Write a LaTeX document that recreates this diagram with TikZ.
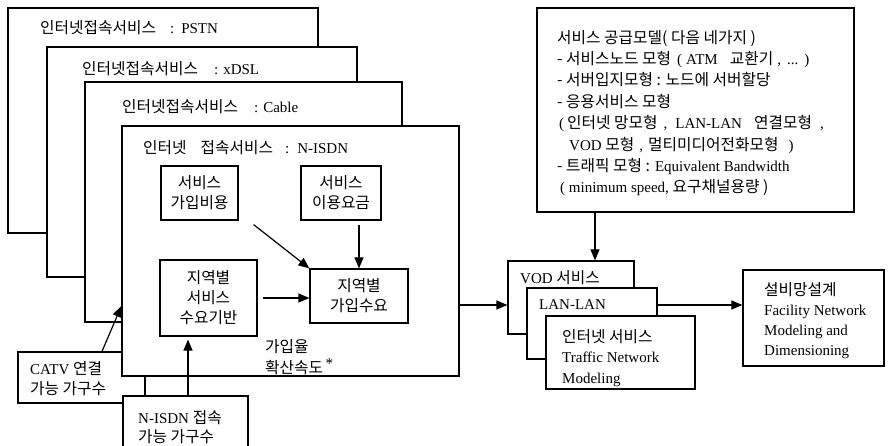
\documentclass[tikz,border=0pt]{standalone}
\usepackage{fontspec}
\setmainfont{Liberation Serif}
\newfontfamily\kr[Scale=1.05]{Noto Sans CJK KR}
\newcommand\hg[1]{{\kr #1}}
\usetikzlibrary{arrows.meta}
\begin{document}
\begin{tikzpicture}[x=1pt,y=-1pt,
  box/.style={draw, fill=white, line width=1.2pt, inner sep=0pt, align=center},
  wh/.style 2 args={minimum width=#1pt, minimum height=#2pt},
  arr/.style={line width=1.2pt, -{Triangle[length=11pt,width=9pt]}},
  txt/.style={inner sep=0pt, align=left, anchor=base west},
  mtxt/.style={inner sep=0pt, align=left, anchor=north west},
  every node/.append style={font=\fontsize{15}{20}\selectfont}]
\clip (0,0) rectangle (889,446);
\fill[white] (0,0) rectangle (889,446);
% stacked access-service boxes
\node[box, wh={310}{225}] (pstn) at (163,120.5) {};
\node[txt] (pstnT) at (40,34) {\hg{인터넷접속서비스}\hspace{14pt}:\hspace{7pt}PSTN};
\node[box, wh={310}{230}] (xdsl) at (202,162) {};
\node[txt] (xdslT) at (82,75) {\hg{인터넷접속서비스}\hspace{16pt}:\hspace{5pt}xDSL};
\node[box, wh={317}{240}] (cable) at (243.5,202) {};
\node[txt] (cableT) at (122,113) {\hg{인터넷접속서비스}\hspace{16pt}:\hspace{5pt}Cable};
\node[box, wh={127}{51}] (catv) at (81.5,377.5) {};
\node[mtxt] (catvT) at (30,360) {\strut CATV \hg{연결}\\\hg{가능 가구수}};
\node[box, wh={337}{250}] (nisdn) at (290.5,251) {};
\node[txt] (nisdnT) at (143,154) {\hg{인터넷}\hspace{14pt}\hg{접속서비스}\hspace{12pt}:\hspace{8pt}N-ISDN};
% inner boxes
\node[box, wh={77}{54}] (b1) at (199.5,193) {\hg{서비스}\\\hg{가입비용}};
\node[box, wh={80}{54}] (b2) at (341,193) {\hg{서비스}\\\hg{이용요금}};
\node[box, wh={97}{76}] (b3) at (208.5,298) {\hg{지역별}\\\hg{서비스}\\\hg{수요기반}};
\node[box, wh={98}{54}] (b4) at (359,296) {\hg{지역별}\\\hg{가입수요}};
\node[mtxt, font=\fontsize{15}{18}\selectfont] (rate) at (265,339.4) {\strut\hg{가입율}\\\hg{확산속도}\,\raisebox{5pt}{*}};
\node[box, wh={125}{74}] (nisdnA) at (185.5,433) {};
\node[mtxt, font=\fontsize{15}{19}\selectfont] (nisdnAT) at (138,409.7) {\strut N-ISDN \hg{접속}\\\hg{가능 가구수}};
% service supply model
\node[box, wh={317}{204}] (sup) at (695.5,110) {};
\node[mtxt, font=\fontsize{15}{21.4}\selectfont] (supT) at (557,28) {%
\strut\hg{서비스 공급모델( 다음 네가지 )}\\
\hg{- 서비스노드 모형}\hspace{6pt}(\hspace{4pt}ATM\hspace{12pt}\hg{교환기}\hspace{4pt},\hspace{6pt}...\hspace{6pt})\\
\hg{- 서버입지모형 : 노드에 서버할당}\\
\hg{- 응용서비스 모형}\\
\hspace{2pt}(\hspace{3pt}\hg{인터넷 망모형}\hspace{6pt},\hspace{8pt}LAN-LAN\hspace{12pt}\hg{연결모형}\hspace{8pt},\\
\hspace{12pt}VOD \hg{모형}\hspace{5pt},\hspace{5pt}\hg{멀티미디어전화모형}\hspace{10pt})\\
\hg{- 트래픽 모형 :} Equivalent Bandwidth\\
\hspace{3pt}( minimum speed, \hg{요구채널용량 )}};
% traffic network boxes
\node[box, wh={126}{73}] (vod) at (571,297.5) {};
\node[txt] (vodT) at (520,284) {VOD \hg{서비스}};
\node[box, wh={130}{71}] (lan) at (592,323.5) {};
\node[txt] (lanT) at (539,310) {LAN-LAN};
\node[box, wh={149}{73}] (inet) at (620.5,352.5) {};
\node[mtxt, font=\fontsize{15}{20.5}\selectfont] (inetT) at (562,327.65) {\strut\hg{인터넷 서비스}\\Traffic Network\\Modeling};
\node[box, wh={141}{96}] (fac) at (813.5,318) {};
\node[mtxt] (facT) at (764,281) {\strut\hg{설비망설계}\\Facility Network\\Modeling and\\Dimensioning};
% connectors
\draw[arr] ([xshift=15pt,yshift=-4pt]b1.south east) -- (b4.north west);
\coordinate (c2) at ([yshift=-4pt]b2.south);
\draw[arr] (c2 -| b4.north) -- (b4.north);
\coordinate (c3) at ([xshift=5pt]b3.east);
\draw[arr] (c3) -- (c3 -| b4.west);
\draw[arr] ([xshift=20.5pt]catv.north) -- ([yshift=-55pt]nisdn.west);
\coordinate (c5) at ([xshift=2.5pt]nisdnA.north);
\draw[arr, shorten >=3pt] (c5) -- (c5 |- b3.south);
\coordinate (c6) at ([yshift=-54pt]nisdn.east);
\draw[arr] (c6) -- (c6 -| vod.west);
\coordinate (c7) at ([xshift=24pt]vod.north);
\draw[arr] (c7 |- sup.south) -- (c7);
\coordinate (c8) at ([yshift=18.5pt]lan.east);
\draw[arr] (c8) -- (c8 -| fac.west);
\end{tikzpicture}
\end{document}
